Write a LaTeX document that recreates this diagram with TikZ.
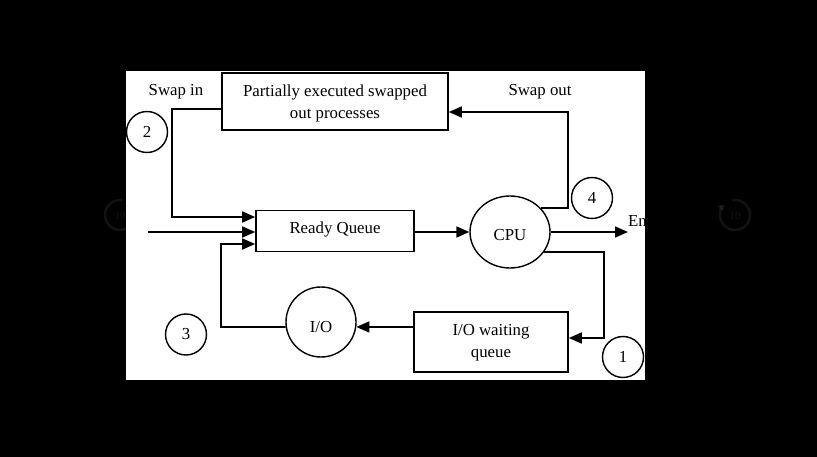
\documentclass[tikz,border=0pt]{standalone}
\usepackage{fontspec}
\setmainfont{Liberation Serif}
\usetikzlibrary{arrows.meta,shapes.geometric}
\begin{document}
\begin{tikzpicture}[x=1pt,y=-1pt,
  font=\fontsize{16.8}{22}\selectfont,
  box/.style={draw,line width=1.6pt,inner sep=0pt,align=center},
  ring/.style={draw,circle,line width=1.4pt,inner sep=0pt},
  link/.style={line width=1.6pt},
  flow/.style={link,-{Triangle[length=13pt,width=11pt]}},
  label/.style={inner sep=0pt,anchor=base}]
				\useasboundingbox (0,0) rectangle (817,457);
				% Frame
				\fill[black] (0,0) rectangle (817,457);
				\fill[white] (126,71) rectangle (645,380);
				% Player buttons
				\begin{scope}[white,opacity=0.07,line width=2.5pt]
				\draw[-{Triangle[length=6pt,width=7pt]}] (120,215) ++(-80:15) arc[start angle=-80, end angle=-405, radius=15];
				\node[inner sep=0pt,font=\fontsize{11}{11}\selectfont] (back) at (120,216) {10};
				\draw[-{Triangle[length=6pt,width=7pt]}] (735,215) ++(-100:15) arc[start angle=-100, end angle=225, radius=15];
				\node[inner sep=0pt,font=\fontsize{11}{11}\selectfont] (ahead) at (735,216) {10};
				\end{scope}

				% Boxes
				\node[box,minimum width=226pt,minimum height=57pt,text height=34pt,text depth=0pt] (swapped) at (335,101.5) {Partially executed swapped\\out processes};
				\node[box,minimum width=158pt,minimum height=41pt,text height=5.6pt,text depth=0pt] (ready) at (335,231) {Ready Queue};
				\node[box,minimum width=154pt,minimum height=60pt,text height=30pt,text depth=0pt] (iowait) at (491,342) {I/O waiting\\queue};
				\node[draw,ellipse,line width=1.4pt,inner sep=0pt,minimum width=80pt,minimum height=72pt,text height=17pt,text depth=0pt] (cpu) at (510,232) {CPU};
				\node[ring,minimum size=70pt,text height=21pt,text depth=0pt] (io) at (321,322) {I/O};

				% Labels
				\node[label] (swapinlabel) at (176,95.5) {Swap in};
				\node[label] (swapoutlabel) at (540,95.5) {Swap out};
				\node[ring,minimum size=41pt] (n1) at (623,357) {1};
				\node[ring,minimum size=41pt] (n2) at (147,132) {2};
				\node[ring,minimum size=41pt] (n3) at (186,334.5) {3};
				\node[ring,minimum size=41pt] (n4) at (592,198) {4};

				% Bends
				\coordinate (rqtop) at ([yshift=14pt]ready.west);
				\coordinate (rqbot) at ([yshift=-13pt]ready.west);
				\coordinate (swapin) at (172,109);
				\coordinate (swapout) at (568,112);
				\coordinate (toio) at (604,338);
				\coordinate (ioback) at (221,327);
				\coordinate (arrive) at (148,232);
				\coordinate (finish) at (628,232);

				% Connectors
				\draw[flow] (swapped.west |- swapin) -- (swapin) |- (rqtop);
				\draw[flow] (arrive) -- (arrive -| ready.west);
				\draw[flow] (io.188) -- (ioback) |- (rqbot);
				\draw[flow] (ready.east |- cpu) -- (cpu.west);
				\draw[flow] (cpu.38) -| (swapout) -- (swapped.east |- swapout);
				\draw[flow] (cpu.-30) -| (toio) -- (iowait.east |- toio);
				\draw[flow] (iowait.west |- io.-8) -- (io.-8);
				\draw[flow] (cpu.east) -- (finish);

				% End, cut by the frame
				\begin{scope}
				\clip (126,71) rectangle (645,380);
				\node[label,anchor=base west] (endlabel) at (628,227) {End};
				\end{scope}
			\end{tikzpicture}
\end{document}
